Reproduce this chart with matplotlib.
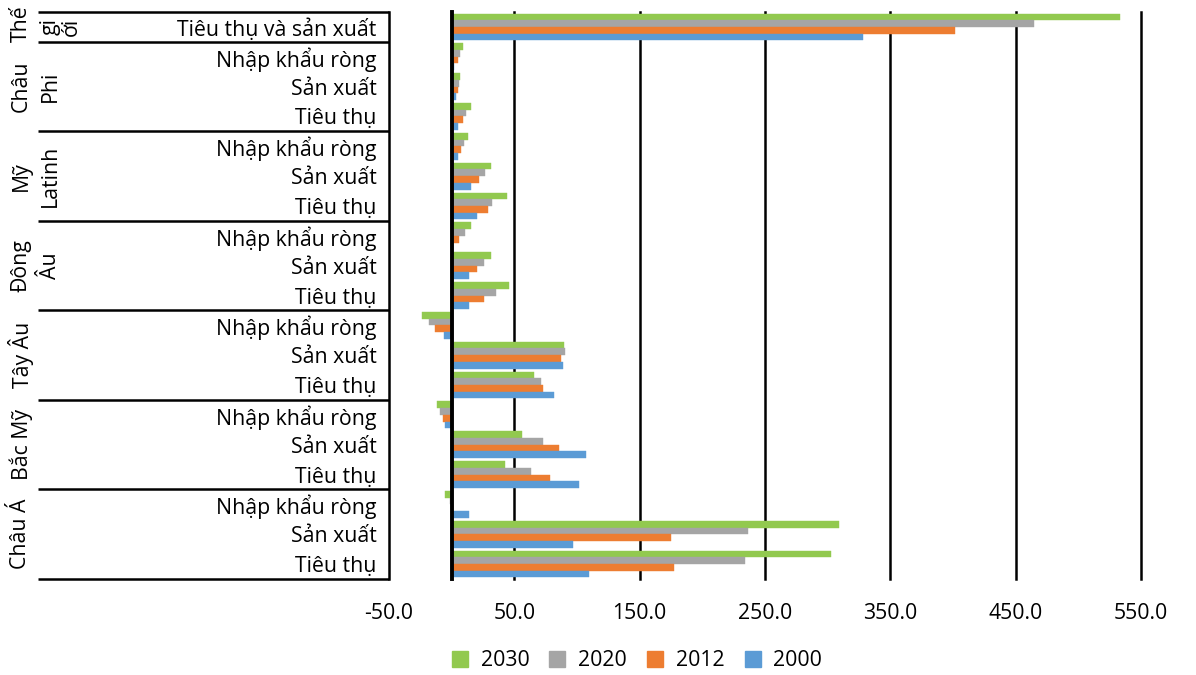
import matplotlib
matplotlib.use("Agg")
import matplotlib.pyplot as plt
import matplotlib.transforms as mtransforms
from matplotlib.patches import Patch
import numpy as np

plt.rcParams['font.family'] = ['Open Sans', 'Noto Sans', 'DejaVu Sans']

# ---------------- data ----------------
row_labels = ["Tiêu thụ và sản xuất",
              "Nhập khẩu ròng", "Sản xuất", "Tiêu thụ",
              "Nhập khẩu ròng", "Sản xuất", "Tiêu thụ",
              "Nhập khẩu ròng", "Sản xuất", "Tiêu thụ",
              "Nhập khẩu ròng", "Sản xuất", "Tiêu thụ",
              "Nhập khẩu ròng", "Sản xuất", "Tiêu thụ",
              "Nhập khẩu ròng", "Sản xuất", "Tiêu thụ"]
# group name lines and number of rows in each group
groups = [["Thế", "gi", "ới"], ["Châu", "Phi"], ["Mỹ", "Latinh"], ["Đông", "Âu"],
          ["Tây Âu"], ["Bắc Mỹ"], ["Châu Á"]]
group_sizes = [1, 3, 3, 3, 3, 3, 3]

series_names = ["2030", "2020", "2012", "2000"]
v2030 = [533.0, 9.0, 6.9, 15.2, 12.8, 31.7, 43.9, 15.4, 31.1, 45.7,
         -23.4, 89.9, 65.7, -12.0, 55.9, 42.9, -5.6, 309.4, 303.0]
v2020 = [464.5, 6.4, 5.8, 11.7, 10.1, 26.3, 32.2, 10.6, 25.5, 35.4,
         -18.4, 90.7, 71.6, -9.0, 73.2, 63.3, -1.6, 236.5, 234.4]
v2012 = [401.4, 5.0, 4.8, 9.3, 7.7, 21.5, 28.7, 5.6, 20.5, 25.5,
         -13.3, 87.2, 73.2, -6.6, 85.6, 78.5, 1.0, 175.3, 177.4]
v2000 = [328.5, 1.9, 3.7, 5.3, 4.8, 15.4, 20.0, 0.0, 13.6, 13.8,
         -6.4, 89.1, 82.0, -5.3, 107.2, 101.4, 14.1, 96.6, 109.9]
colors = ["#92C94F", "#A5A5A5", "#ED7D31", "#5B9BD5"]

x_ticks = [-50, 50, 150, 250, 350, 450, 550]

# ---------------- figure ----------------
W, H = 1196, 675
fig = plt.figure(figsize=(W / 100, H / 100), dpi=100)
L, R, T, B = 389, 1141, 12, 579
ax = fig.add_axes([L / W, 1 - B / H, (R - L) / W, (B - T) / H])

FS = 15.3
n = len(row_labels)
y = np.arange(n)
bh = 0.224
all_vals = [v2030, v2020, v2012, v2000]
for k, (vals, c, name) in enumerate(zip(all_vals, colors, series_names)):
    ax.barh(y + (k - 1.5) * bh, vals, height=bh, color=c, label=name,
            edgecolor=c, linewidth=0.3, zorder=3)

ax.set_xlim(-50, 550)
ax.set_ylim(n - 0.5, -0.5)
ax.set_xticks(x_ticks)
ax.set_xticklabels([f"{t:.1f}" for t in x_ticks], fontsize=FS)
ax.tick_params(axis='x', length=0, pad=17)
ax.set_yticks(y)
ax.set_yticklabels(row_labels, fontsize=FS)
ax.tick_params(axis='y', length=0, pad=9)

for s in ['top', 'bottom', 'right']:
    ax.spines[s].set_visible(False)
ax.spines['left'].set_linewidth(1.8)
ax.spines['left'].set_color('black')

for t in x_ticks[1:]:
    ax.axvline(t, color='black', linewidth=1.8, zorder=1, clip_on=False)
ax.axvline(0, color='black', linewidth=2.8, zorder=4, clip_on=False)

# category box lines
trans = mtransforms.blended_transform_factory(ax.transAxes, ax.transData)
x_left = (38 - L) / (R - L)
bounds = [-0.5]
acc = -0.5
for g in group_sizes:
    acc += g
    bounds.append(acc)
for b in bounds:
    ax.plot([x_left, 0], [b, b], color='black', linewidth=1.8,
            transform=trans, clip_on=False, solid_capstyle='butt')

# group labels
col_x = [21, 50, 71]
start = -0.5
for names, g in zip(groups, group_sizes):
    yc = start + g / 2
    for j, nm in enumerate(names):
        xx = (col_x[j] - L) / (R - L)
        yy = yc
        if g == 1 and j == 0:
            yy = -0.1
        ax.text(xx, yy, nm, rotation=90, ha='center', va='center',
                fontsize=FS, transform=trans, clip_on=False)
    start += g

handles = [Patch(facecolor=c, edgecolor=c, label=nm) for c, nm in zip(colors, series_names)]
fig.legend(handles=handles, loc='center', bbox_to_anchor=(637 / W, 1 - 661 / H),
           ncol=4, frameon=False, fontsize=FS, handlelength=0.75, handleheight=0.75,
           handletextpad=0.6, columnspacing=0.95)

fig.savefig("out.png", dpi=100)
